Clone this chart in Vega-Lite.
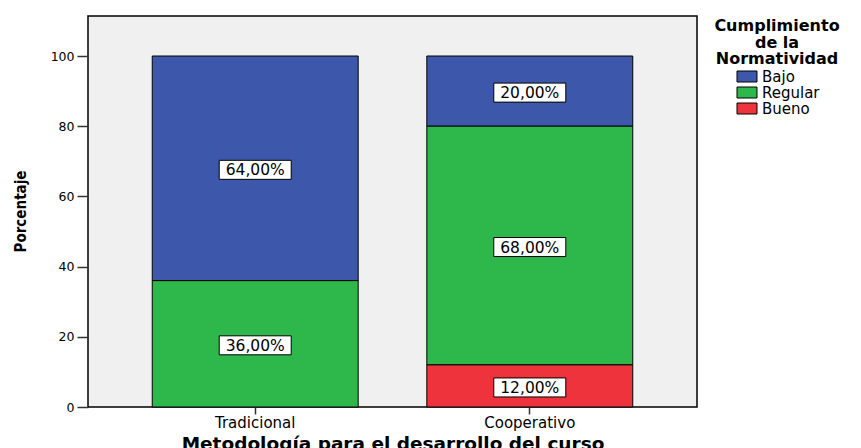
{
  "$schema": "https://vega.github.io/schema/vega-lite/v6.json",
  "width": 609,
  "height": 391,
  "autosize": "none",
  "padding": {"left": 88, "top": 16, "right": 164, "bottom": 41},
  "background": "white",
  "config": {
    "view": {"fill": "#f0f0f0", "stroke": "#000000", "strokeWidth": 1.5},
    "font": "DejaVu Sans"
  },
  "data": {
    "values": [
      {"metodologia": "Tradicional", "nivel": "Bajo", "orden": 3, "porcentaje": 64},
      {"metodologia": "Tradicional", "nivel": "Regular", "orden": 2, "porcentaje": 36},
      {"metodologia": "Cooperativo", "nivel": "Bajo", "orden": 3, "porcentaje": 20},
      {"metodologia": "Cooperativo", "nivel": "Regular", "orden": 2, "porcentaje": 68},
      {"metodologia": "Cooperativo", "nivel": "Bueno", "orden": 1, "porcentaje": 12}
    ]
  },
  "transform": [
    {"stack": "porcentaje", "groupby": ["metodologia"], "sort": [{"field": "orden", "order": "ascending"}], "as": ["y0", "y1"]},
    {"calculate": "(datum.y0 + datum.y1) / 2", "as": "mid"},
    {"calculate": "replace(format(datum.porcentaje, '.2f'), '.', ',') + '%'", "as": "etiqueta"}
  ],
  "encoding": {
    "x": {
      "field": "metodologia",
      "type": "nominal",
      "sort": ["Tradicional", "Cooperativo"],
      "scale": {"paddingInner": 0.25, "paddingOuter": 0.234},
      "axis": {
        "title": "Metodología para el desarrollo del curso",
        "titleFont": "DejaVu Sans",
        "titleFontWeight": "bold",
        "titleFontSize": 18.5,
        "titleColor": "#000000",
        "titleBaseline": "alphabetic",
        "titleY": 42,
        "labelAngle": 0,
        "labelFont": "DejaVu Sans",
        "labelFontSize": 15,
        "labelColor": "#000000",
        "labelPadding": 1,
        "domain": false,
        "tickSize": 7,
        "tickWidth": 1.5,
        "tickColor": "#333333"
      }
    }
  },
  "layer": [
    {
      "mark": {"type": "bar", "stroke": "#000000", "strokeWidth": 1},
      "encoding": {
        "y": {
          "field": "y0",
          "type": "quantitative",
          "scale": {"domain": [0, 111.4], "nice": false},
          "axis": {
            "title": "Porcentaje",
            "titleFont": "Liberation Sans Narrow, DejaVu Sans Condensed, Roboto Condensed, sans-serif",
            "titleFontWeight": "bold",
            "titleFontSize": 15,
            "titleColor": "#000000",
            "titleAngle": -90,
            "titleBaseline": "middle",
            "titleAlign": "center",
            "titleX": -68,
            "titleY": 195,
            "values": [0, 20, 40, 60, 80, 100],
            "grid": false,
            "domain": false,
            "tickSize": 11,
            "tickWidth": 1.5,
            "tickColor": "#333333",
            "labelFont": "DejaVu Sans",
            "labelFontSize": 12.5,
            "labelColor": "#000000",
            "labelPadding": 3
          }
        },
        "y2": {"field": "y1"},
        "color": {
          "field": "nivel",
          "type": "nominal",
          "scale": {"domain": ["Bajo", "Regular", "Bueno"], "range": ["#3d58ab", "#2eb84b", "#ef333c"]},
          "legend": {
            "title": ["Cumplimiento", "de la", "Normatividad"],
            "orient": "none",
            "legendX": 626,
            "legendY": 2,
            "titleFont": "DejaVu Sans",
            "titleFontWeight": "bold",
            "titleFontSize": 16,
            "titleLineHeight": 16.5,
            "titleColor": "#000000",
            "titleAlign": "center",
            "titleAnchor": "middle",
            "titlePadding": 2,
            "symbolType": "M-1.818,-1L1.818,-1L1.818,1L-1.818,1Z",
            "symbolSize": 121,
            "symbolStrokeColor": "#000000",
            "symbolStrokeWidth": 1,
            "symbolOpacity": 1,
            "symbolOffset": 4.5,
            "labelFont": "DejaVu Sans",
            "labelFontSize": 15,
            "labelColor": "#000000",
            "labelOffset": 7.5,
            "rowPadding": -2
          }
        }
      }
    },
    {
      "mark": {
        "type": "point",
        "shape": "M-1,-0.264L1,-0.264L1,0.264L-1,0.264Z",
        "filled": true,
        "fill": "#ffffff",
        "stroke": "#000000",
        "strokeWidth": 1,
        "opacity": 1,
        "size": 5184,
        "yOffset": 1.5
      },
      "encoding": {
        "y": {"field": "mid", "type": "quantitative"}
      }
    },
    {
      "mark": {
        "type": "text",
        "font": "DejaVu Sans",
        "fontSize": 15.5,
        "color": "#000000",
        "baseline": "middle",
        "align": "center",
        "yOffset": 2
      },
      "encoding": {
        "y": {"field": "mid", "type": "quantitative"},
        "text": {"field": "etiqueta"}
      }
    }
  ]
}
